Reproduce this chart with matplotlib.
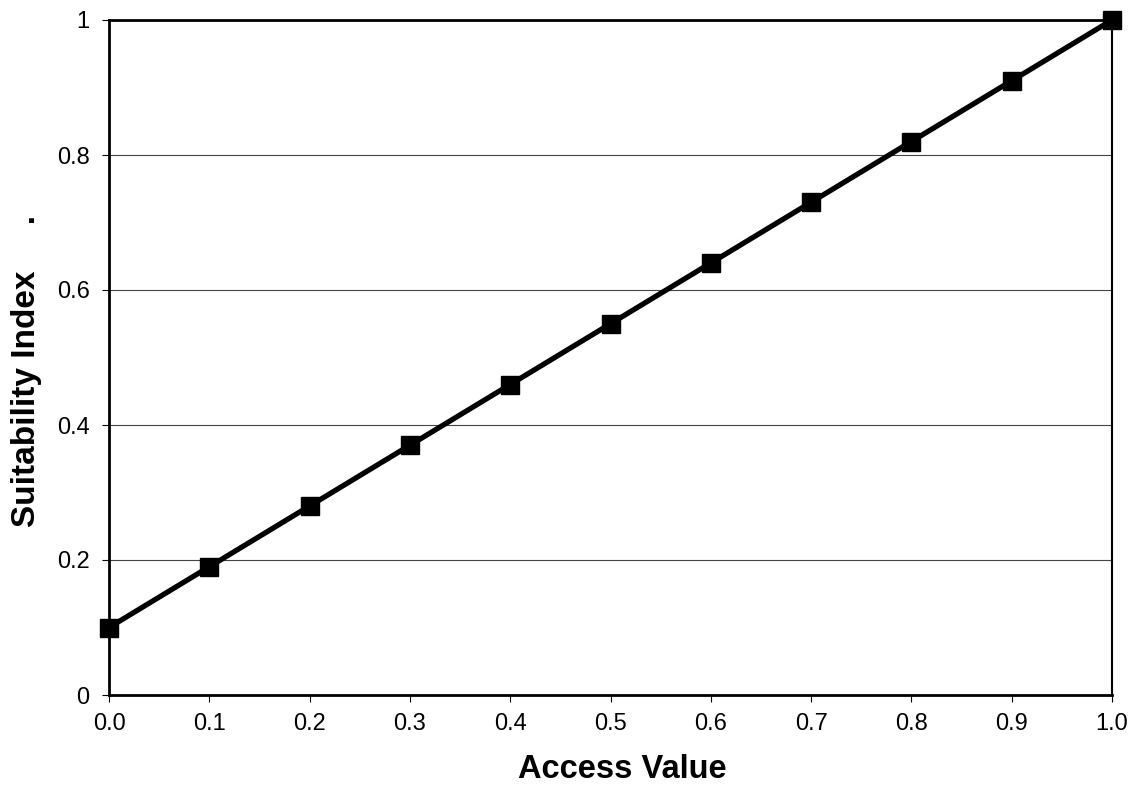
import numpy as np
import matplotlib.pyplot as plt

plt.rcParams.update({'font.family': ['Liberation Sans', 'DejaVu Sans'], 'font.size': 17})

access = [0.0, 0.1, 0.2, 0.3, 0.4, 0.5, 0.6, 0.7, 0.8, 0.9, 1.0]
suitability = [0.10, 0.19, 0.28, 0.37, 0.46, 0.55, 0.64, 0.73, 0.82, 0.91, 1.00]
x_ticks = [0.0, 0.1, 0.2, 0.3, 0.4, 0.5, 0.6, 0.7, 0.8, 0.9, 1.0]
y_ticks = [0, 0.2, 0.4, 0.6, 0.8, 1]
y_tick_labels = ['0', '0.2', '0.4', '0.6', '0.8', '1']

W, H = 1136, 787
fig = plt.figure(figsize=(W / 100, H / 100), dpi=100)
ax = fig.add_axes([109 / W, 1 - 695 / H, 1003 / W, 675 / H])

for y in y_ticks[1:]:
    ax.axhline(y, color='#444444', lw=0.8, zorder=1)

ax.plot(access, suitability, color='black', lw=3.8, marker='s', ms=13,
        clip_on=False, zorder=3)

ax.set_xlim(0, 1)
ax.set_ylim(0, 1)
ax.set_xticks(x_ticks)
ax.set_xticklabels([f'{v:.1f}' for v in x_ticks])
ax.set_yticks(y_ticks)
ax.set_yticklabels(y_tick_labels)
ax.tick_params(direction='out', length=5, width=0.8)
ax.tick_params(axis='y', pad=9)
ax.tick_params(axis='x', pad=8)

for side in ['left', 'bottom', 'top']:
    ax.spines[side].set_linewidth(2)
ax.spines['right'].set_linewidth(1.5)

fig.text(622 / W, 1 - 778 / H, 'Access Value', fontsize=23.5, fontweight='bold',
         ha='center', va='baseline')
fig.text(35 / W, 1 - 527 / H, 'Suitability Index     .', rotation=90,
         rotation_mode='anchor', fontsize=24, fontweight='bold',
         ha='left', va='baseline')

fig.savefig('out.png', dpi=100)
